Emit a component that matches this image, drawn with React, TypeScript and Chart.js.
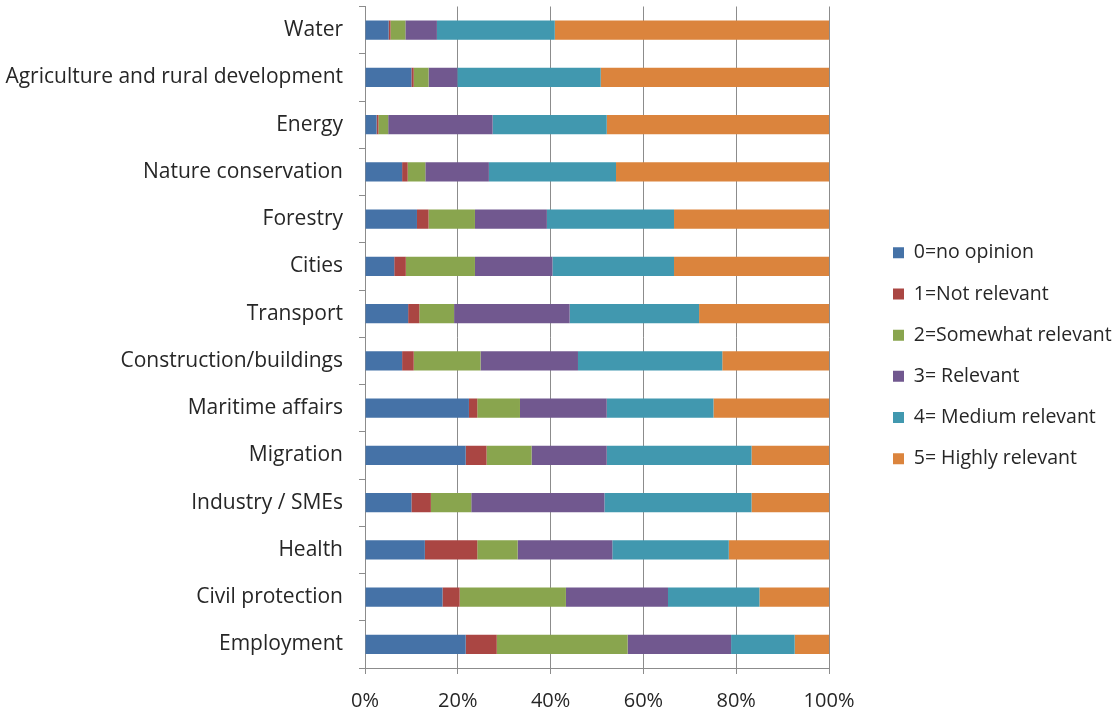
import React, { useEffect, useRef } from "react";
import { Chart, registerables } from "chart.js";

Chart.register(...registerables);

const categories = [
  "Water",
  "Agriculture and rural development",
  "Energy",
  "Nature conservation",
  "Forestry",
  "Cities",
  "Transport",
  "Construction/buildings",
  "Maritime affairs",
  "Migration",
  "Industry / SMEs",
  "Health",
  "Civil protection",
  "Employment",
];

const noOpinion = [5.1, 10.0, 2.5, 8.0, 11.2, 6.3, 9.3, 8.0, 22.4, 21.7, 10.0, 12.9, 16.7, 21.7];
const notRelevant = [0.4, 0.5, 0.4, 1.2, 2.5, 2.5, 2.4, 2.5, 1.8, 4.5, 4.2, 11.3, 3.7, 6.7];
const somewhatRelevant = [3.2, 3.2, 2.1, 3.8, 10.0, 14.9, 7.5, 14.4, 9.2, 9.7, 8.7, 8.7, 22.9, 28.2];
const relevant = [6.8, 6.2, 22.5, 13.7, 15.5, 16.7, 24.9, 21.0, 18.7, 16.2, 28.7, 20.4, 22.0, 22.3];
const mediumRelevant = [25.4, 30.9, 24.6, 27.4, 27.4, 26.2, 27.9, 31.1, 23.0, 31.2, 31.7, 25.1, 19.7, 13.7];
const highlyRelevant = [59.1, 49.2, 47.9, 45.9, 33.4, 33.4, 28.0, 23.0, 24.9, 16.7, 16.7, 21.6, 15.0, 7.4];

const seriesNames = [
  "0=no opinion",
  "1=Not relevant",
  "2=Somewhat relevant",
  "3= Relevant",
  "4= Medium relevant",
  "5= Highly relevant",
];
const seriesColors = ["#4572A7", "#AA4643", "#89A54E", "#71588F", "#4198AF", "#DB843D"];
const xTicks = [0, 20, 40, 60, 80, 100];

const FONT = "'Open Sans', sans-serif";
const TEXT = "#262626";
const LEGEND_BOX_X = 893;
const LEGEND_DY = -3;

const legendShift = {
  id: "legendShift",
  afterLayout(chart: any) {
    const l = chart.legend;
    if (!l) return;
    const dx = LEGEND_BOX_X - (l.left + l.options.labels.padding);
    l.left += dx;
    l.right += dx;
    l.top += LEGEND_DY;
    l.bottom += LEGEND_DY;
  },
};

export default function App() {
  const ref = useRef<HTMLCanvasElement | null>(null);

  useEffect(() => {
    if (!ref.current) return;
    const values = [noOpinion, notRelevant, somewhatRelevant, relevant, mediumRelevant, highlyRelevant];
    const chart = new Chart(ref.current, {
      type: "bar",
      data: {
        labels: categories,
        datasets: values.map((v, i) => ({
          label: seriesNames[i],
          data: v,
          backgroundColor: seriesColors[i],
          borderWidth: 0,
          barPercentage: 0.41,
          categoryPercentage: 1,
        })),
      },
      plugins: [legendShift],
      options: {
        indexAxis: "y",
        animation: false,
        responsive: false,
        maintainAspectRatio: false,
        layout: { padding: { top: 6.5, left: 0, right: 0, bottom: 0 } },
        plugins: {
          tooltip: { enabled: false },
          legend: {
            position: "right",
            align: "center",
            labels: {
              boxWidth: 11,
              boxHeight: 11,
              padding: 21.7,
              color: TEXT,
              font: { family: FONT, size: 19.5 },
            },
          },
        },
        scales: {
          x: {
            stacked: true,
            min: 0,
            max: 100,
            afterBuildTicks: (scale: any) => {
              scale.ticks = xTicks.map((v) => ({ value: v }));
            },
            afterFit: (scale: any) => {
              scale.paddingRight = 1113 - 829;
              scale.height = 43;
            },
            ticks: {
              color: TEXT,
              font: { family: FONT, size: 20 },
              padding: 15,
              callback: (v: any) => v + "%",
              maxRotation: 0,
            },
            grid: {
              color: "#8c8c8c",
              lineWidth: 1,
              drawTicks: true,
              tickLength: 6,
            },
            border: { color: "#8c8c8c" },
          },
          y: {
            stacked: true,
            afterFit: (scale: any) => {
              scale.width = 365;
              scale.paddingTop = 0;
              scale.paddingBottom = 0;
            },
            ticks: {
              color: TEXT,
              font: { family: FONT, size: 21 },
              padding: 16,
            },
            grid: {
              offset: true,
              drawOnChartArea: false,
              drawTicks: true,
              tickLength: 6,
              color: "#8c8c8c",
            },
            border: { color: "#8c8c8c" },
          },
        },
      },
    });
    return () => chart.destroy();
  }, []);

  return (
    <div style={{ position: "absolute", left: 0, top: 0, width: 1113, height: 711, background: "#fff", overflow: "hidden" }}>
      <canvas ref={ref} width={1113} height={711} style={{ display: "block" }} />
    </div>
  );
}
